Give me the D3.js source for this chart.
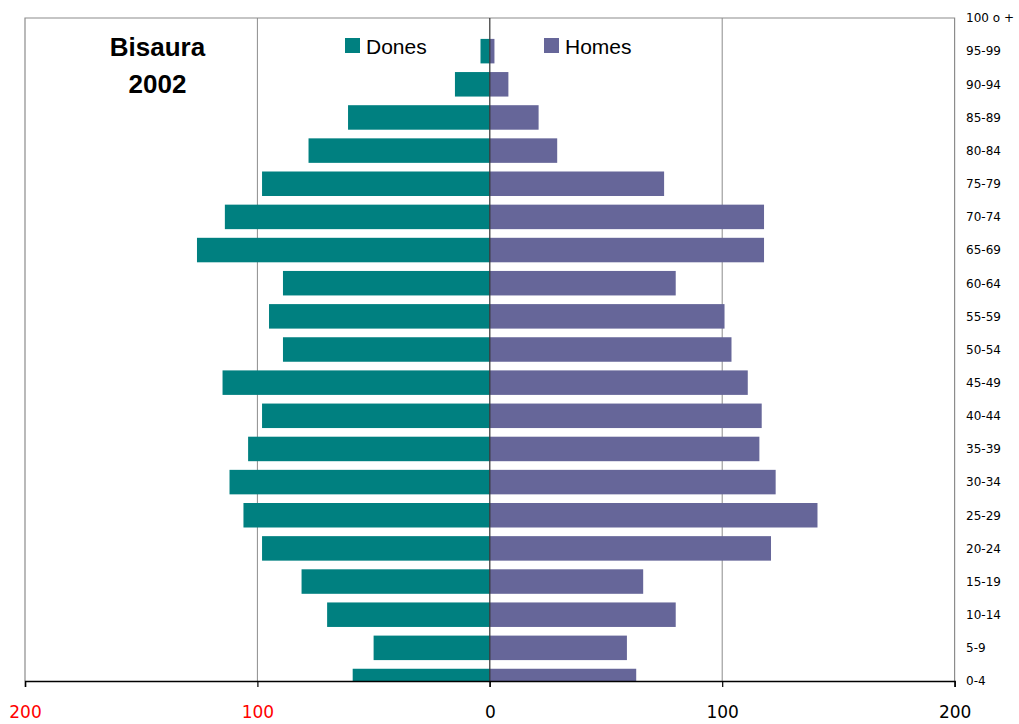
<!DOCTYPE html>
<html>
<head>
<meta charset="utf-8">
<script src="https://cdn.jsdelivr.net/npm/d3@7"></script>
<style>
  html, body { margin: 0; padding: 0; background: #fff; }
  svg { display: block; font-family: "Liberation Sans", Arial, sans-serif; }
</style>
</head>
<body>
<svg id="chart" width="1019" height="724"></svg>
<script>
const categories = ["0-4","5-9","10-14","15-19","20-24","25-29","30-34","35-39","40-44","45-49","50-54","55-59","60-64","65-69","70-74","75-79","80-84","85-89","90-94","95-99","100 o +"];
const dones = [59, 50, 70, 81, 98, 106, 112, 104, 98, 115, 89, 95, 89, 126, 114, 98, 78, 61, 15, 4, 0];
const homes = [63, 59, 80, 66, 121, 141, 123, 116, 117, 111, 104, 101, 80, 118, 118, 75, 29, 21, 8, 2, 0];
const xTicks = [-200, -100, 0, 100, 200];
const xTickLabels = ["200", "100", "0", "100", "200"];
const seriesNames = ["Dones", "Homes"];
const titleLines = ["Bisaura", "2002"];

const colDones = "#008080", colHomes = "#666699";
const pLeft = 25, pRight = 954.6, pTop = 18, pBottom = 681;

const svg = d3.select("#chart");
const x = d3.scaleLinear().domain([-200, 200]).range([pLeft, pRight]);
const y = d3.scaleLinear().domain([0, categories.length - 1]).range([pBottom, pTop]);
const barH = 24.5;

svg.append("defs").append("clipPath").attr("id", "plotclip")
  .append("rect").attr("x", pLeft).attr("y", pTop).attr("width", pRight - pLeft).attr("height", pBottom - pTop);

// gridlines
svg.append("g").selectAll("line").data([-100, 100]).join("line")
  .attr("x1", d => x(d)).attr("x2", d => x(d)).attr("y1", pTop).attr("y2", pBottom)
  .attr("stroke", "#8c8c8c").attr("stroke-width", 1);

// frame
svg.append("path")
  .attr("d", `M${pLeft},${pBottom} V${pTop} H${pRight} V${pBottom}`)
  .attr("fill", "none").attr("stroke", "#8c8c8c").attr("stroke-width", 1.2);

// bars
const bars = svg.append("g").attr("clip-path", "url(#plotclip)");
bars.selectAll("rect.d").data(dones).join("rect").attr("class", "d")
  .attr("x", d => x(-d)).attr("width", d => x(0) - x(-d))
  .attr("y", (d, i) => y(i) - barH / 2).attr("height", barH)
  .attr("fill", colDones);
bars.selectAll("rect.h").data(homes).join("rect").attr("class", "h")
  .attr("x", x(0)).attr("width", d => x(d) - x(0))
  .attr("y", (d, i) => y(i) - barH / 2).attr("height", barH)
  .attr("fill", colHomes);

// center line
svg.append("line").attr("x1", x(0)).attr("x2", x(0)).attr("y1", pTop).attr("y2", pBottom + 6)
  .attr("stroke", "#333").attr("stroke-width", 1.2);

// bottom axis
const xAxis = d3.axisBottom(x).tickValues(xTicks).tickSize(6).tickFormat((d, i) => xTickLabels[i]);
const gx = svg.append("g").attr("transform", `translate(0,${pBottom})`).call(xAxis);
gx.select(".domain").attr("stroke", "#000").attr("stroke-width", 1.5);
gx.selectAll(".tick line").attr("stroke", "#000").attr("stroke-width", 1.2);
gx.selectAll(".tick text")
  .attr("font-family", "'DejaVu Sans', Verdana, sans-serif")
  .attr("font-size", 17).attr("dy", null).attr("y", 36.5)
  .attr("fill", d => d < 0 ? "#ff0000" : "#000");

// right category labels
const yAxis = d3.axisRight(y).tickValues(d3.range(categories.length)).tickSize(0).tickPadding(11.5)
  .tickFormat((d, i) => categories[i]);
const gy = svg.append("g").attr("transform", `translate(${pRight},0)`).call(yAxis);
gy.select(".domain").remove();
gy.selectAll(".tick text")
  .attr("font-family", "'DejaVu Sans', Verdana, sans-serif")
  .attr("font-size", 12).attr("fill", "#000");

// legend
const legend = svg.append("g");
const legX = [345, 544];
seriesNames.forEach((name, i) => {
  legend.append("rect").attr("x", legX[i]).attr("y", 38).attr("width", 15).attr("height", 15)
    .attr("fill", i === 0 ? colDones : colHomes);
  legend.append("text").attr("x", legX[i] + 21).attr("y", 54)
    .attr("font-size", 21).attr("fill", "#000").text(name);
});

// title
svg.append("g").selectAll("text").data(titleLines).join("text")
  .attr("x", 157.5).attr("y", (d, i) => 56 + i * 37)
  .attr("text-anchor", "middle").attr("font-size", 26).attr("font-weight", "bold")
  .attr("fill", "#000").text(d => d);
</script>
</body>
</html>
